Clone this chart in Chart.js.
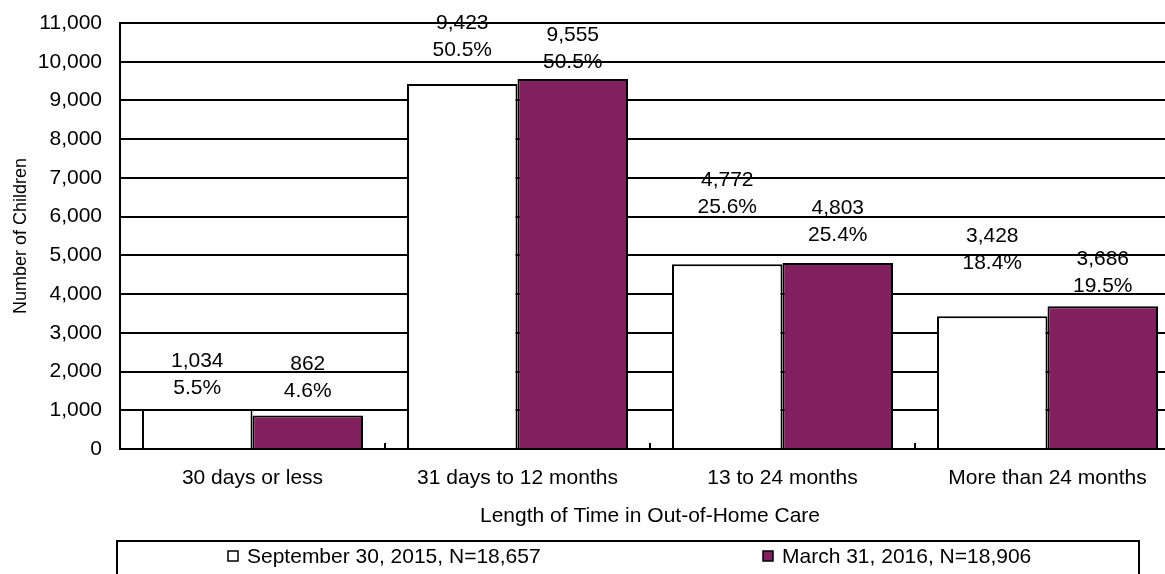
<!DOCTYPE html>
<html>
<head>
<meta charset="utf-8">
<script src="https://cdn.jsdelivr.net/npm/chart.js@4.4.1/dist/chart.umd.min.js"></script>
<style>
    html, body { margin: 0; padding: 0; background: #fff; overflow: hidden; }
    canvas { display: block; }
</style>
</head>
<body>
<canvas id="timeChart" width="1190" height="574"></canvas>
<script>
const categories = ['30 days or less', '31 days to 12 months', '13 to 24 months', 'More than 24 months'];
const sepCounts = [1034, 9423, 4772, 3428];
const sepPercents = [5.5, 50.5, 25.6, 18.4];
const marCounts = [862, 9555, 4803, 3686];
const marPercents = [4.6, 50.5, 25.4, 19.5];
const seriesLabels = ['September 30, 2015, N=18,657', 'March 31, 2016, N=18,906'];

const FONT = "'Liberation Sans', Arial, sans-serif";
const purple = '#82205F';

// labels sit above each bar: count on top, percent below it
const labelLift = [[21, 34, 57, 53], [24, 17, 28, 20]];
const percents = [sepPercents, marPercents];

const barLabels = {
    id: 'barLabels',
    afterDatasetsDraw(chart) {
        const c = chart.ctx;
        c.save();
        c.font = '21px ' + FONT;
        c.fillStyle = '#000';
        c.textAlign = 'center';
        c.textBaseline = 'middle';
        chart.data.datasets.forEach((ds, i) => {
            chart.getDatasetMeta(i).data.forEach((bar, j) => {
                const y = bar.y - labelLift[i][j];
                c.fillText(ds.data[j].toLocaleString('en-US'), bar.x, y - 27);
                c.fillText(percents[i][j].toFixed(1) + '%', bar.x, y);
            });
        });
        c.restore();
    }
};

// boxed legend under the axis title
const boxLegend = {
    id: 'boxLegend',
    afterDraw(chart) {
        const c = chart.ctx;
        const left = chart.chartArea.left - 3;
        const top = 541;
        c.save();
        c.strokeStyle = '#000';
        c.lineWidth = 2;
        c.strokeRect(left, top, 1139 - left, 60);
        c.font = '21px ' + FONT;
        c.textBaseline = 'middle';
        c.textAlign = 'left';
        const itemX = [228, 763];
        chart.data.datasets.forEach((ds, i) => {
            c.fillStyle = ds.backgroundColor;
            c.fillRect(itemX[i], 551, 10, 10);
            c.lineWidth = 1.5;
            c.strokeRect(itemX[i], 551, 10, 10);
            c.fillStyle = '#000';
            c.fillText(ds.label, itemX[i] + 19, 557);
        });
        c.restore();
    }
};

new Chart(document.getElementById('timeChart'), {
    type: 'bar',
    data: {
        labels: categories,
        datasets: [
            {
                label: seriesLabels[0],
                data: sepCounts,
                backgroundColor: '#ffffff',
                borderColor: '#000',
                borderWidth: 2,
                barPercentage: 1,
                categoryPercentage: 0.834
            },
            {
                label: seriesLabels[1],
                data: marCounts,
                backgroundColor: purple,
                borderColor: '#000',
                borderWidth: 2,
                barPercentage: 1,
                categoryPercentage: 0.834
            }
        ]
    },
    options: {
        responsive: false,
        devicePixelRatio: 1,
        animation: false,
        layout: {
            padding: { top: 0, left: 10, right: 10, bottom: 41 }
        },
        plugins: {
            legend: { display: false },
            tooltip: { enabled: false }
        },
        scales: {
            x: {
                afterFit: (axis) => { axis.height = 84; },
                grid: {
                    drawOnChartArea: false,
                    color: '#000',
                    lineWidth: 2,
                    tickLength: -6
                },
                border: { color: '#000', width: 2 },
                ticks: {
                    color: '#000',
                    padding: 23,
                    font: { family: FONT, size: 21 }
                },
                title: {
                    display: true,
                    text: 'Length of Time in Out-of-Home Care',
                    color: '#000',
                    padding: { top: 4, bottom: 4 },
                    font: { family: FONT, size: 21 }
                }
            },
            y: {
                afterFit: (axis) => {
                    axis.width = 110;
                    axis.paddingTop = 23;
                },
                min: 0,
                max: 11000,
                ticks: {
                    stepSize: 1000,
                    color: '#000',
                    padding: 18,
                    font: { family: FONT, size: 21 },
                    callback: function (value) {
                        return value.toLocaleString('en-US');
                    }
                },
                grid: {
                    color: '#000',
                    lineWidth: 2,
                    drawTicks: false
                },
                border: { color: '#000', width: 2 },
                title: {
                    display: true,
                    text: 'Number of Children',
                    color: '#000',
                    padding: { top: 0, bottom: 4 },
                    font: { family: FONT, size: 18 }
                }
            }
        }
    },
    plugins: [barLabels, boxLegend]
});
</script>
</body>
</html>
